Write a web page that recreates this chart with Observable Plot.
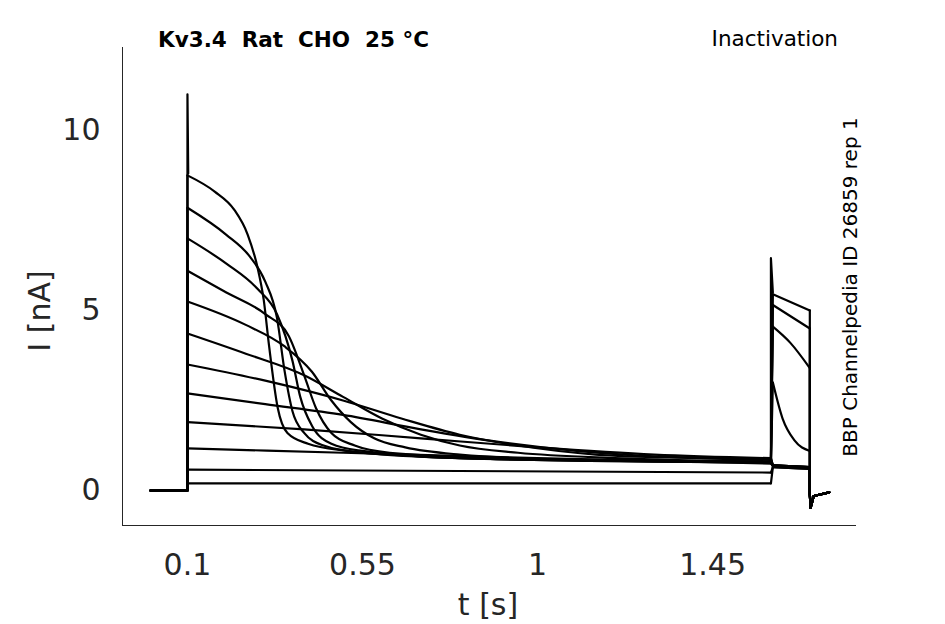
<!DOCTYPE html>
<html><head><meta charset="utf-8">
<script src="https://cdn.jsdelivr.net/npm/d3@7"></script>
<script src="https://cdn.jsdelivr.net/npm/@observablehq/plot@0.6"></script>
<style>body{margin:0;background:#fff;font-family:"DejaVu Sans",sans-serif}</style>
</head><body><div id="c"></div>
<script>
// Decay phase of each trace during the test pulse (t [s], I [nA])
const decay = [
 [[.1,8.75],[.17,8.3],[.22,7.8],[.255,7.1],[.28,6.2],[.296,5.3],[.31,4.0],[.332,2.3],[.357,1.6],[.41,1.3],[.51,1.1],[.7,.95],[1.0,.85],[1.6,.8]],
 [[.1,7.85],[.2,7.1],[.26,6.5],[.3,5.8],[.33,4.8],[.35,3.3],[.37,2.2],[.4,1.6],[.45,1.25],[.55,1.05],[.8,.9],[1.6,.78]],
 [[.1,7.0],[.2,6.3],[.28,5.6],[.33,4.9],[.37,3.6],[.39,2.6],[.42,1.8],[.47,1.3],[.55,1.1],[.8,.9],[1.6,.78]],
 [[.1,6.1],[.2,5.5],[.3,4.9],[.36,4.3],[.4,3.2],[.43,2.3],[.47,1.6],[.53,1.25],[.62,1.05],[.9,.9],[1.6,.8]],
 [[.1,5.25],[.25,4.6],[.35,4.0],[.42,3.3],[.47,2.5],[.52,1.9],[.58,1.45],[.66,1.2],[.8,1.0],[1.1,.85],[1.6,.8]],
 [[.1,4.36],[.25,3.8],[.4,3.2],[.5,2.6],[.6,2.0],[.7,1.55],[.8,1.25],[.95,1.05],[1.2,.9],[1.6,.8]],
 [[.1,3.5],[.3,3.05],[.5,2.5],[.65,2.0],[.8,1.55],[.95,1.25],[1.15,1.0],[1.4,.9],[1.6,.85]],
 [[.1,2.7],[.3,2.4],[.5,2.1],[.7,1.7],[.9,1.35],[1.1,1.1],[1.3,.95],[1.6,.88]],
 [[.1,1.9],[.4,1.7],[.7,1.45],[1.0,1.2],[1.3,1.0],[1.6,.9]],
 [[.1,1.17],[.5,1.05],[1.0,.9],[1.6,.75]],
 [[.1,.58],[1.6,.5]],
 [[.1,.2],[1.6,.2]]
];
// Second pulse segment of each trace
const pulse2 = [
 [[1.605,5.45],[1.70,5.0]],
 [[1.605,5.15],[1.70,4.5]],
 [[1.605,4.55],[1.65,4.1],[1.70,3.4]],
 [[1.605,3.0],[1.63,2.0],[1.66,1.4],[1.70,1.1]],
 [[1.605,.7],[1.70,.65]],[[1.605,.7],[1.70,.65]],[[1.605,.7],[1.70,.65]],[[1.605,.7],[1.70,.65]],
 [[1.605,.7],[1.70,.62]],[[1.605,.68],[1.70,.62]],[[1.605,.65],[1.70,.6]],[[1.605,.65],[1.70,.6]]
];
const baseline = [[0.005,0],[0.1,0]];
const tail = [[1.70,-0.1],[1.702,-0.48],[1.71,-0.15],[1.75,-0.05]];
const spikes = [[[0.1,0],[0.1,11.0],[0.102,8.8]],[[1.6,0.8],[1.6,6.45],[1.605,5.5]]];
const xTicks = [0.1,0.55,1,1.45];
const yTicks = [0,5,10];
const xDom = [-0.067,1.82], yDom = [-0.97,12.3];

const smooth = [], straight = [];
const push=(arr,pts,k)=>pts.forEach(([t,v])=>arr.push({t,v,k}));
decay.forEach((d,i)=>{
  push(smooth,d,"d"+i);
  push(smooth,pulse2[i],"p"+i);
  push(straight,[...baseline,d[0]],"a"+i);
  push(straight,[d[d.length-1],pulse2[i][0]],"b"+i);
  const e=pulse2[i][pulse2[i].length-1];
  push(straight,[e,...tail],"c"+i);
});
spikes.forEach((s,i)=>push(straight,s,"s"+i));

const W=945,H=624;
const plot = Plot.plot({
  width:W,height:H,marginLeft:122,marginRight:89,marginTop:47,marginBottom:99,
  style:{fontFamily:"DejaVu Sans",color:"#262626",background:"#fff"},
  x:{domain:xDom,label:null},
  y:{domain:yDom,label:null},
  marks:[
    Plot.axisX({ticks:xTicks,tickFormat:d=>String(d),tickSize:0,tickPadding:28,fontSize:30,label:null}),
    Plot.axisY({ticks:yTicks,tickFormat:d=>String(d),tickSize:0,tickPadding:22,fontSize:30,label:null}),
    Plot.ruleX([xDom[0]],{stroke:"#262626"}),
    Plot.ruleY([yDom[0]],{stroke:"#262626"}),
    Plot.line(smooth,{x:"t",y:"v",z:"k",stroke:"#000",strokeWidth:2.2,curve:"monotone-x"}),
    Plot.line(straight,{x:"t",y:"v",z:"k",stroke:"#000",strokeWidth:2.2})
  ]
});
document.getElementById("c").appendChild(plot);
const svg = d3.select(plot);
const add=(x,y,txt,o={})=>{const t=svg.append("text").attr("x",x).attr("y",y).text(txt)
  .attr("font-family","DejaVu Sans").attr("fill",o.fill||"#000").attr("font-size",o.size||19)
  .attr("text-anchor",o.anchor||"start").attr("font-weight",o.weight||"normal");
  if(o.rot) t.attr("transform",`rotate(-90,${x},${y})`); return t;};
add(158,47,"Kv3.4  Rat  CHO  25 °C",{weight:"bold",size:21.5});
add(838,46,"Inactivation",{anchor:"end",size:21.5});
add(857,287,"BBP Channelpedia ID 26859 rep 1",{rot:true,anchor:"middle",size:20});
add(488,615,"t [s]",{anchor:"middle",size:30,fill:"#262626"});
add(50,311,"I [nA]",{rot:true,anchor:"middle",size:30,fill:"#262626"});
</script></body></html>
